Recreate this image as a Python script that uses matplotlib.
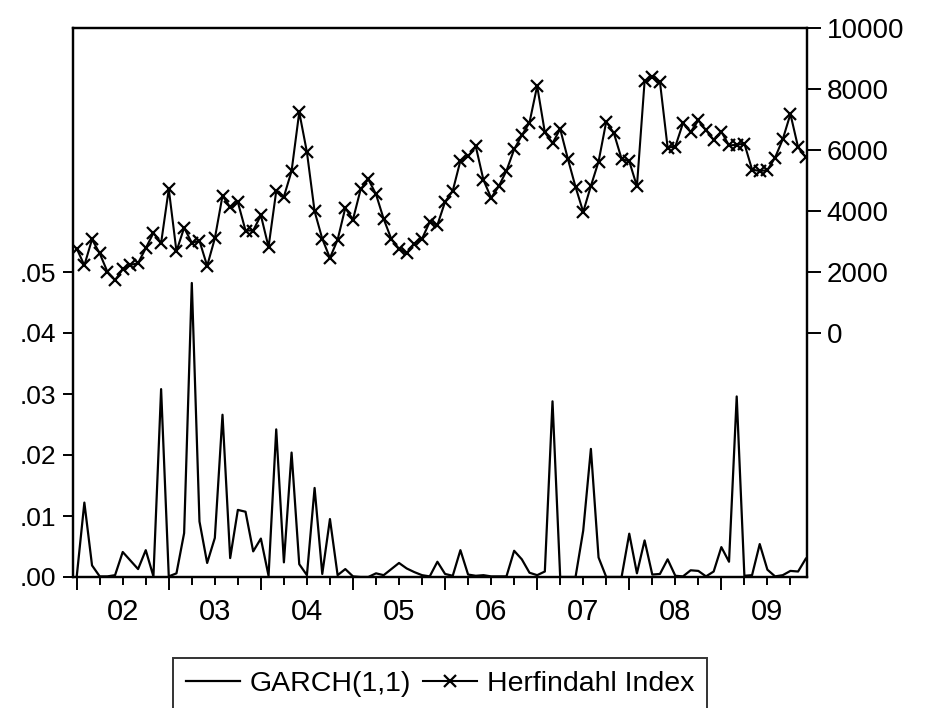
import numpy as np
import matplotlib
matplotlib.use('Agg')
import matplotlib.pyplot as plt
from matplotlib.ticker import FixedLocator, FuncFormatter

plt.rcParams['font.family'] = ['Liberation Sans', 'DejaVu Sans']

# monthly data, 2002M01 .. 2009M12
start_year = 2002
n_months = 96

garch = [0.0000, 0.0122, 0.0019, 0.0001, 0.0001, 0.0003, 0.0041, 0.0027, 0.0013, 0.0044,
         0.0001, 0.0308, 0.0001, 0.0006, 0.0072, 0.0482, 0.0091, 0.0023, 0.0064, 0.0266,
         0.0031, 0.0110, 0.0107, 0.0042, 0.0063, 0.0002, 0.0242, 0.0024, 0.0204, 0.0021,
         0.0003, 0.0146, 0.0005, 0.0095, 0.0003, 0.0013, 0.0001, 0.0000, 0.0000, 0.0006,
         0.0003, 0.0013, 0.0023, 0.0014, 0.0008, 0.0003, 0.0001, 0.0025, 0.0005, 0.0002,
         0.0044, 0.0004, 0.0002, 0.0003, 0.0001, 0.0001, 0.0001, 0.0043, 0.0029, 0.0007,
         0.0003, 0.0009, 0.0288, 0.0000, 0.0000, 0.0000, 0.0076, 0.0210, 0.0032, 0.0000,
         0.0000, 0.0000, 0.0071, 0.0006, 0.0060, 0.0004, 0.0005, 0.0029, 0.0002, 0.0001,
         0.0011, 0.0010, 0.0001, 0.0009, 0.0049, 0.0025, 0.0296, 0.0002, 0.0003, 0.0054,
         0.0012, 0.0001, 0.0003, 0.0010, 0.0009, 0.0030]

herfindahl = [2770, 2220, 3070, 2610, 2010, 1730, 2090, 2230, 2290, 2780,
              3280, 2950, 4720, 2680, 3450, 2960, 3020, 2200, 3100, 4500,
              4120, 4290, 3360, 3360, 3860, 2820, 4650, 4470, 5310, 7240,
              5930, 3990, 3090, 2460, 3060, 4100, 3720, 4710, 5040, 4550,
              3740, 3080, 2760, 2620, 2930, 3090, 3640, 3540, 4300, 4660,
              5650, 5790, 6120, 5020, 4430, 4810, 5320, 6020, 6480, 6900,
              8100, 6580, 6220, 6690, 5710, 4790, 3970, 4820, 5620, 6930,
              6550, 5710, 5630, 4810, 8260, 8390, 8230, 6080, 6110, 6880,
              6590, 6970, 6650, 6330, 6600, 6150, 6170, 6210, 5360, 5310,
              5340, 5750, 6350, 7180, 6090, 5760]

year_labels = ['02', '03', '04', '05', '06', '07', '08', '09']
left_ticks = [0.00, 0.01, 0.02, 0.03, 0.04, 0.05]
right_ticks = [0, 2000, 4000, 6000, 8000, 10000]

t = start_year + np.arange(n_months) / 12.0

fig = plt.figure(figsize=(9.26, 7.08), dpi=100)
ax = fig.add_axes([73/926, 1-577/708, 734/926, 549/708])
ax2 = ax.twinx()

ax.plot(t, garch, color='black', lw=1.6, label='GARCH(1,1)')
ax2.plot(t, herfindahl, color='black', lw=1.5, marker='x', ms=9, mew=1.6,
         label='Herfindahl Index')

ax.set_xlim(2001.96, 2009.93)
ax.set_ylim(0, 0.09)
ax2.set_ylim(-8000, 10000)

ax.yaxis.set_major_locator(FixedLocator(left_ticks))
ax.yaxis.set_major_formatter(FuncFormatter(lambda v, p: ('%.2f' % v)[1:]))
ax2.yaxis.set_major_locator(FixedLocator(right_ticks))

years = np.arange(start_year, start_year + 8)
ax.xaxis.set_major_locator(FixedLocator(years))
ax.xaxis.set_minor_locator(FixedLocator(np.arange(start_year, start_year + 8, 0.25)))
ax.set_xticklabels([])
ax.tick_params(axis='x', which='major', direction='out', length=9.5, width=1.4)
ax.tick_params(axis='x', which='minor', direction='out', length=5.5, width=1.4)
ax.tick_params(axis='y', direction='out', length=7, width=1.4, pad=5, labelsize=19)
ax2.tick_params(axis='y', direction='out', length=10, width=1.4, pad=4, labelsize=20)

sec = ax.secondary_xaxis('bottom')
sec.set_xticks(years + 0.5)
sec.set_xticklabels(year_labels)
sec.tick_params(length=0, pad=15, labelsize=21)
sec.spines['bottom'].set_visible(False)

for a in (ax, ax2):
    for s in a.spines.values():
        s.set_linewidth(1.6)

h1, l1 = ax.get_legend_handles_labels()
h2, l2 = ax2.get_legend_handles_labels()
leg = fig.legend(h1 + h2, l1 + l2, loc='upper center', ncol=2,
                 bbox_to_anchor=(440/926, 1-658/708), fontsize=20.5,
                 frameon=True, fancybox=False, edgecolor='black',
                 handlelength=1.9, handletextpad=0.35, columnspacing=0.4,
                 borderpad=0.45, borderaxespad=0)
leg.get_frame().set_linewidth(1.4)

fig.savefig('out.png', dpi=100)
